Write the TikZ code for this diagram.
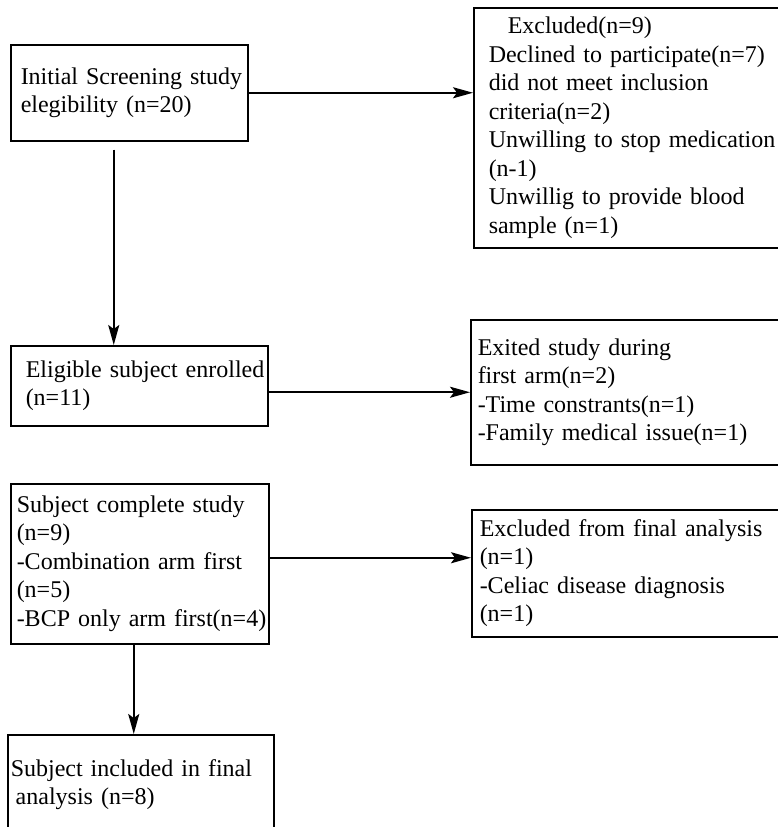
\documentclass[tikz,border=0pt]{standalone}
\usepackage{fontspec}
\setmainfont{Liberation Serif}
\usetikzlibrary{arrows.meta}

\tikzset{
  box/.style={draw, line width=1.5pt, anchor=north west, align=left, inner ysep=0pt,
    font=\fontsize{24}{28.5}\selectfont},
  arr/.style={line width=2pt, -{Stealth[length=20pt,width=11pt,inset=4pt]}}
}

\begin{document}
\begin{tikzpicture}[x=1pt, y=-1pt]
	\useasboundingbox (0,0) rectangle (777,827);
	\node [box, inner xsep=10pt, text width=217pt, minimum height=96pt] (init) at (10,44)
		{\mbox{Initial Screening study}\\elegibility (n=20)};
	\node [box, inner xsep=15pt, text width=310pt, minimum height=240pt] (excl) at (473,7)
		{\hspace*{19pt}Excluded(n=9)\\Declined to participate(n=7)\\did not meet inclusion\\criteria(n=2)\\Unwilling to stop medication\\(n-1)\\Unwillig to provide blood\\sample (n=1)};
	\node [box, inner xsep=15pt, text width=227pt, minimum height=80pt] (elig) at (10,345)
		{\mbox{Eligible subject enrolled}\\(n=11)};
	\node [box, inner xsep=7pt, text width=326pt, minimum height=145pt] (exit) at (470,319)
		{Exited study during\\first arm(n=2)\\-Time constrants(n=1)\\-Family medical issue(n=1)};
	\node [box, inner xsep=6pt, text width=246pt, minimum height=160pt] (comp) at (10,483)
		{Subject complete study\\(n=9)\\\mbox{-Combination arm first}\\(n=5)\\\mbox{-BCP only arm first(n=4)}};
	\node [box, inner xsep=8pt, text width=324pt, minimum height=127pt] (fin) at (471,509)
		{Excluded from final analysis\\(n=1)\\-Celiac disease diagnosis\\(n=1)};
	\node [box, inner xsep=3pt, text width=260pt, minimum height=100pt] (incl) at (7,734)
		{\mbox{Subject included in final}\\\hspace*{5pt}analysis (n=8)};

	\draw [arr] (init.east) -- (init.east -| excl.west);
	\draw [arr, shorten <=8pt] ([xshift=-15.5pt]init.south) -- ([xshift=-15.5pt]init.south |- elig.north);
	\draw [arr] (exit.west -| elig.east) -- (exit.west);
	\draw [arr] ([yshift=6pt]comp.east) -- ([yshift=6pt]comp.east -| fin.west);
	\draw [arr] ([xshift=-6pt]comp.south) -- ([xshift=-6pt]comp.south |- incl.north);
\end{tikzpicture}
\end{document}
